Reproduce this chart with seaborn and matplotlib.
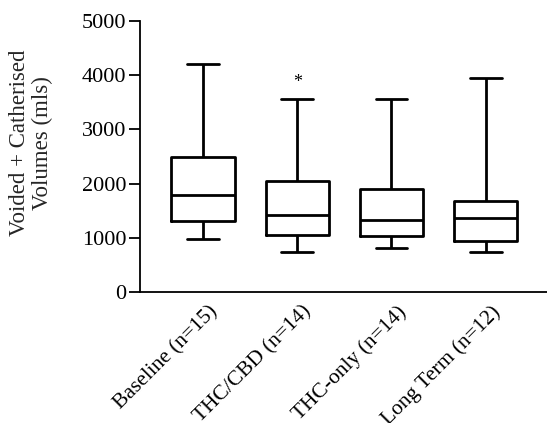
import matplotlib
matplotlib.use("Agg")
import matplotlib.pyplot as plt
import matplotlib.transforms as mtransforms
import pandas as pd
import seaborn as sns

# ── Data (five-number summaries) ──────────────────────────────
groups   = ["Baseline (n=15)", "THC/CBD (n=14)", "THC-only (n=14)", "Long Term (n=12)"]
minimum  = [990, 740, 810, 740]
q1       = [1310, 1060, 1030, 950]
median   = [1800, 1430, 1340, 1360]
q3       = [2500, 2050, 1910, 1690]
maximum  = [4200, 3560, 3550, 3940]
star_group = "THC/CBD (n=14)"
star_y     = 3870

# 5 points per group -> quartiles land exactly on the values with whis=(0, 100)
rows = []
for g, a, b, c, d, e in zip(groups, minimum, q1, median, q3, maximum):
    for v in (a, b, c, d, e):
        rows.append({"group": g, "volume": v})
df = pd.DataFrame(rows)

# ── Plot ──────────────────────────────────────────────────────
sns.set_style("ticks")
plt.rcParams["font.family"] = ["Liberation Serif", "DejaVu Serif"]

fig = plt.figure(figsize=(5.47, 4.23), dpi=100)
ax = fig.add_axes([0.256, 0.309, 0.744, 0.642])

sns.boxplot(
    data=df, x="group", y="volume", order=groups,
    whis=(0, 100), width=0.67, fill=False, color="black",
    linewidth=2, showfliers=False, ax=ax,
)

ax.text(groups.index(star_group), star_y, "*", ha="center", va="center",
        fontsize=13, color="black")

ax.set_ylim(0, 5000)
ax.set_xlim(-0.668, 3.65)
ax.set_yticks([0, 1000, 2000, 3000, 4000, 5000])
ax.set_xlabel("")
ax.set_ylabel("Voided + Catherised\nVolumes (mls)", fontsize=16.5, linespacing=1.1)
ax.yaxis.set_label_coords(-0.215, 0.55)
ax.tick_params(axis="y", labelsize=16, length=8, width=1.3, pad=2, colors="black")
ax.tick_params(axis="x", labelsize=15.5, length=0, pad=7, colors="black")

# rotated labels, nudged slightly right like the original
offset = mtransforms.ScaledTranslation(5 / 100, 0, fig.dpi_scale_trans)
for lab in ax.get_xticklabels():
    lab.set_rotation(45)
    lab.set_ha("right")
    lab.set_rotation_mode("anchor")
    lab.set_transform(lab.get_transform() + offset)

for side in ("top", "right"):
    ax.spines[side].set_visible(False)
for side in ("left", "bottom"):
    ax.spines[side].set_linewidth(1.3)
    ax.spines[side].set_color("black")

fig.savefig("out.png", dpi=100)
